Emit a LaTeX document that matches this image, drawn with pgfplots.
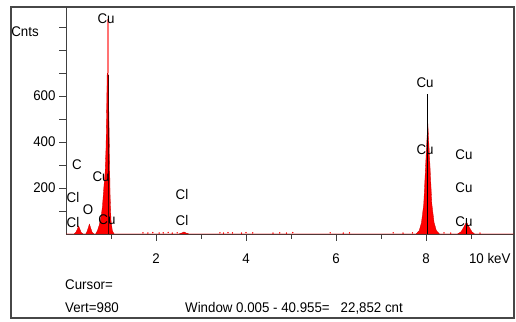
\documentclass[border=0pt]{standalone}
\usepackage{pgfplots}
\pgfplotsset{compat=1.18}
\usepackage{fontspec}
\setmainfont{Liberation Sans}[FakeStretch=0.95]
\begin{document}
\begin{tikzpicture}[x=1pt,y=1pt,every node/.style={font=\fontsize{14}{16}\selectfont}]
\useasboundingbox (0,0) rectangle (516,321);
\fill[white] (0,0) rectangle (516,321);
\draw[black!72, line width=1.6pt] (11,3) rectangle (514,314);
\begin{axis}[
  at={(66pt,87pt)}, anchor=south west,
  scale only axis, width=448pt, height=227pt,
  xmin=0, xmax=9.956, ymin=0, ymax=987,
  axis lines*=left,
  axis line style={draw=black!75, line width=0.8pt},
  tick align=outside,
  major tick length=7pt, minor tick length=5pt,
  tick style={draw=black!75, line width=0.6pt},
  xtick={2,4,6,8}, xticklabels={2,4,6,8},
  minor xtick={1,3,5,7,9},
  ytick={100,200,300,400,500,600,700,800,900},
  yticklabels={,200,,400,,600,,,},
  tick label style={font=\fontsize{14}{16}\selectfont, black},
  xticklabel style={yshift=-9pt},
  yticklabel style={xshift=0pt},
  clip=false,
]
% Spectrum
\addplot[draw=red!80!black, fill=red, line width=0.3pt] coordinates {
 (0.00,0) (0.18,0) (0.22,8) (0.25,20) (0.28,35) (0.31,20) (0.34,6) (0.38,0)
 (0.44,0) (0.47,12) (0.50,30) (0.52,43) (0.55,25) (0.58,8) (0.62,0)
 (0.66,0) (0.70,15) (0.74,40) (0.78,75) (0.81,120) (0.84,200) (0.87,270)
 (0.89,380) (0.905,560) (0.915,700) (0.925,800) (0.935,700) (0.95,560)
 (0.965,370) (0.98,170) (1.00,60) (1.03,14) (1.07,0)
 (2.50,0) (2.57,4) (2.62,9) (2.67,4) (2.74,0)
 (7.78,0) (7.85,15) (7.90,50) (7.95,130) (8.00,330) (8.04,485) (8.08,330)
 (8.13,130) (8.18,50) (8.23,15) (8.30,0)
 (8.70,0) (8.78,10) (8.84,30) (8.90,52) (8.96,30) (9.02,10) (9.08,0)
 (9.956,0)
} \closedcycle;
% light top of Cu L peak
\addplot[draw=red!55, line width=2pt] coordinates {(0.925,700) (0.925,935)};
% noise
\addplot[only marks, mark=*, mark size=0.45pt, red, draw=red] coordinates {
 (1.71,5) (1.82,4) (1.93,6) (2.07,4) (2.16,5) (2.27,7) (2.36,4) (2.47,5)
 (3.42,5) (3.50,4) (3.60,6) (3.70,5) (3.90,4) (4.00,6) (4.15,5)
 (4.60,4) (4.75,5) (4.90,4) (5.04,6) (5.87,5) (6.16,4) (6.30,5)
 (7.27,5) (7.49,4) (7.70,5) (8.40,5) (8.55,4) (9.20,4)
};
% marker lines
\addplot[black, line width=0.7pt] coordinates {(8.04,0) (8.04,610)};
\addplot[black, line width=0.6pt] coordinates {(8.90,0) (8.90,70)};
\addplot[black!70!red, line width=0.6pt] coordinates {(0.93,0) (0.93,690)};
% element labels
\node at (axis cs:0.889,935) {Cu};
\node at (axis cs:0.244,300) {C};
\node at (axis cs:0.156,157) {Cl};
\node at (axis cs:0.156,52) {Cl};
\node at (axis cs:0.489,104) {O};
\node at (axis cs:0.778,248) {Cu};
\node at (axis cs:0.911,61) {Cu};
\node at (axis cs:2.578,170) {Cl};
\node at (axis cs:2.578,57) {Cl};
\node at (axis cs:7.978,657) {Cu};
\node at (axis cs:7.978,365) {Cu};
\node at (axis cs:8.844,343) {Cu};
\node at (axis cs:8.844,200) {Cu};
\node at (axis cs:8.844,52) {Cu};
\end{axis}
\node at (25,289) {Cnts};
\node[anchor=east] at (514,63) {10 keV};
\node[anchor=west, inner sep=0pt] at (65,36) {Cursor=};
\node[anchor=west, inner sep=0pt] at (65,13) {Vert=980};
\node[anchor=west, inner sep=0pt] at (185,13) {Window 0.005 - 40.955=\hspace{11pt}22,852 cnt};
\end{tikzpicture}
\end{document}
